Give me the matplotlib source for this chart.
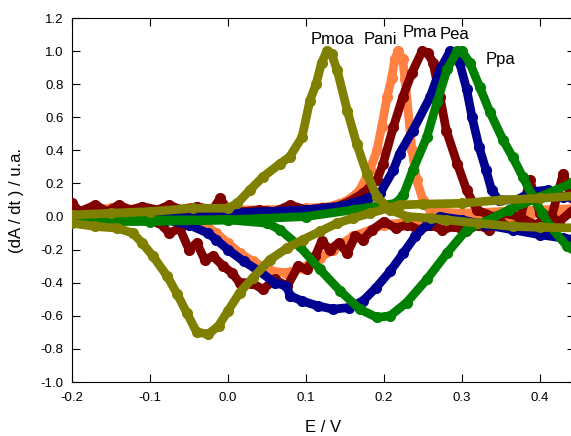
import matplotlib
matplotlib.use('Agg')
import matplotlib.pyplot as plt

# Pmoa (olive) - anodic sweep then cathodic sweep
pmoa_e = [-0.20, -0.15, -0.10, -0.045, 0.0, 0.012, 0.028, 0.045, 0.067, 0.079, 0.095, 0.105, 0.113, 0.12,
          0.127, 0.133, 0.14, 0.153, 0.165, 0.178, 0.191, 0.208, 0.23, 0.26, 0.28, 0.32, 0.365, 0.40, 0.46,
          0.46, 0.40, 0.35, 0.30, 0.25, 0.22, 0.182, 0.16, 0.14, 0.118, 0.096, 0.076, 0.054, 0.032, 0.015,
          0.0, -0.012, -0.025, -0.04, -0.053, -0.065, -0.078, -0.096, -0.11, -0.122, -0.142, -0.17, -0.20]
pmoa_y = [0.01, 0.02, 0.03, 0.05, 0.05, 0.08, 0.16, 0.24, 0.32, 0.36, 0.48, 0.70, 0.80, 0.93,
          1.00, 0.98, 0.885, 0.64, 0.44, 0.26, 0.12, 0.04, 0.0, -0.01, -0.02, -0.04, -0.06, -0.065, -0.07,
          0.13, 0.11, 0.10, 0.08, 0.075, 0.07, 0.02, -0.01, -0.04, -0.09, -0.14, -0.19, -0.26, -0.37, -0.46,
          -0.57, -0.66, -0.71, -0.70, -0.58, -0.47, -0.36, -0.24, -0.16, -0.10, -0.07, -0.06, -0.04]

# Pani (orange)
pani_e = [-0.20, -0.15, -0.10, -0.05, 0.0, 0.05, 0.10, 0.13, 0.15, 0.16, 0.169, 0.182, 0.191, 0.197,
          0.204, 0.21, 0.214, 0.218, 0.224, 0.227, 0.236, 0.242, 0.25, 0.26, 0.30, 0.35, 0.40, 0.46,
          0.46, 0.40, 0.35, 0.30, 0.26, 0.20, 0.16, 0.135, 0.118, 0.096, 0.075, 0.055, 0.032, 0.015,
          0.0, -0.015, -0.027, -0.05, -0.10, -0.20]
pani_y = [0.03, 0.05, 0.04, 0.05, 0.04, 0.04, 0.05, 0.06, 0.09, 0.12, 0.16, 0.28, 0.40, 0.54,
          0.72, 0.84, 0.95, 1.00, 0.95, 0.83, 0.40, 0.22, 0.10, 0.03, 0.02, 0.03, 0.04, 0.05,
          0.03, 0.02, -0.02, -0.03, -0.02, -0.05, -0.12, -0.20, -0.25, -0.31, -0.34, -0.33, -0.27, -0.22,
          -0.16, -0.10, -0.06, -0.02, 0.0, 0.01]

# Pma (dark red), noisy
pma_e = [-0.20, -0.19, -0.17, -0.155, -0.14, -0.125, -0.11, -0.09, -0.075, -0.06, -0.04, -0.02, -0.01,
         0.0, 0.02, 0.04, 0.06, 0.08, 0.10, 0.12, 0.14, 0.155, 0.173, 0.191, 0.199, 0.212, 0.224, 0.236,
         0.249, 0.256, 0.263, 0.272, 0.28, 0.294, 0.306, 0.319, 0.34, 0.36, 0.375, 0.387, 0.40, 0.415,
         0.43, 0.445, 0.46,
         0.46, 0.44, 0.425, 0.41, 0.395, 0.38, 0.365, 0.35, 0.335, 0.32, 0.305, 0.29, 0.275, 0.26, 0.245,
         0.23, 0.215, 0.20, 0.185, 0.173, 0.163, 0.153, 0.142, 0.131, 0.12, 0.112, 0.101, 0.09, 0.076,
         0.06, 0.045, 0.03, 0.015, 0.005, -0.006, -0.019, -0.03, -0.04, -0.05, -0.062, -0.075, -0.09,
         -0.11, -0.13, -0.15, -0.17, -0.19, -0.20]
pma_y = [0.08, 0.03, 0.07, 0.03, 0.07, 0.04, 0.06, 0.04, 0.07, 0.04, 0.06, 0.04, 0.11,
         0.04, 0.03, 0.04, 0.03, 0.07, 0.04, 0.05, 0.06, 0.09, 0.14, 0.22, 0.32, 0.54, 0.72, 0.87,
         1.00, 0.99, 0.93, 0.72, 0.52, 0.32, 0.16, 0.04, 0.0, 0.02, -0.01, 0.22, 0.02, 0.0,
         0.26, 0.05, 0.30,
         -0.02, 0.03, -0.03, 0.0, -0.05, -0.02, -0.07, -0.04, -0.08, -0.05, -0.09, -0.06, -0.08, -0.05, -0.08,
         -0.05, -0.07, -0.03, -0.08, -0.14, -0.12, -0.22, -0.16, -0.20, -0.15, -0.24, -0.32, -0.30, -0.42,
         -0.38, -0.44, -0.40, -0.40, -0.34, -0.30, -0.24, -0.26, -0.16, -0.20, -0.07, -0.10, -0.03,
         -0.01, 0.01, -0.01, 0.01, -0.03, 0.0]

# Pea (navy)
pea_e = [-0.20, -0.10, -0.05, 0.0, 0.05, 0.10, 0.14, 0.16, 0.18, 0.195, 0.212, 0.22, 0.237, 0.259,
         0.272, 0.285, 0.297, 0.306, 0.313, 0.322, 0.331, 0.338, 0.347, 0.37, 0.39, 0.41, 0.43, 0.46,
         0.46, 0.43, 0.40, 0.365, 0.33, 0.30, 0.272, 0.255, 0.24, 0.225, 0.208, 0.19, 0.173, 0.155,
         0.135, 0.115, 0.095, 0.08, 0.075, 0.06, 0.04, 0.02, 0.0, -0.015, -0.026, -0.05, -0.08, -0.12, -0.20]
pea_y = [0.0, 0.0, 0.01, 0.02, 0.03, 0.04, 0.06, 0.08, 0.11, 0.14, 0.28, 0.38, 0.52, 0.72,
         0.89, 1.00, 0.93, 0.77, 0.60, 0.42, 0.28, 0.16, 0.10, 0.10, 0.15, 0.16, 0.12, 0.10,
         -0.15, -0.13, -0.11, -0.08, -0.05, -0.02, 0.0, -0.05, -0.12, -0.22, -0.33, -0.43, -0.51, -0.55,
         -0.56, -0.54, -0.51, -0.48, -0.42, -0.40, -0.33, -0.27, -0.20, -0.14, -0.10, -0.05, -0.02, 0.0, 0.0]

# Ppa (green)
ppa_e = [-0.20, -0.10, 0.0, 0.10, 0.16, 0.215, 0.225, 0.237, 0.255, 0.268, 0.281, 0.294, 0.30,
         0.31, 0.323, 0.336, 0.353, 0.365, 0.378, 0.391, 0.403, 0.413, 0.435, 0.46,
         0.46, 0.44, 0.40, 0.36, 0.33, 0.306, 0.281, 0.255, 0.229, 0.208, 0.191, 0.169, 0.144, 0.118,
         0.092, 0.067, 0.05, 0.0, -0.10, -0.20]
ppa_y = [-0.02, -0.02, -0.02, 0.0, 0.04, 0.08, 0.13, 0.28, 0.48, 0.69, 0.89, 1.00, 1.00,
         0.93, 0.78, 0.63, 0.46, 0.36, 0.24, 0.12, 0.02, -0.06, -0.18, -0.26,
         0.22, 0.20, 0.12, 0.04, -0.03, -0.08, -0.22, -0.38, -0.52, -0.60, -0.61, -0.56, -0.45, -0.32,
         -0.18, -0.08, -0.04, -0.02, -0.03, -0.03]

series = [
    (pani_e, pani_y, '#ff8040'),
    (pma_e, pma_y, '#800000'),
    (pea_e, pea_y, '#000090'),
    (ppa_e, ppa_y, '#008000'),
    (pmoa_e, pmoa_y, '#808000'),
]

plt.rcParams['font.family'] = ['Liberation Sans', 'DejaVu Sans']

fig = plt.figure(figsize=(5.71, 4.36), dpi=100)
ax = fig.add_axes([72 / 571, 54 / 436, 503 / 571, 364 / 436])

for z, (e, y, c) in enumerate(series):
    ax.plot(e, y, color=c, lw=6.3, solid_capstyle='round', solid_joinstyle='round',
            marker='o', ms=7, mec=c, zorder=2 + z)

# peak labels
ax.text(0.134, 1.07, 'Pmoa', ha='center', va='center', fontsize=12)
ax.text(0.195, 1.07, 'Pani', ha='center', va='center', fontsize=12)
ax.text(0.246, 1.11, 'Pma', ha='center', va='center', fontsize=12)
ax.text(0.291, 1.10, 'Pea', ha='center', va='center', fontsize=12)
ax.text(0.350, 0.95, 'Ppa', ha='center', va='center', fontsize=12)

ax.set_xlim(-0.2, 0.445)
ax.set_ylim(-1.0, 1.2)
ax.set_xticks([-0.2, -0.1, 0.0, 0.1, 0.2, 0.3, 0.4])
ax.set_yticks([-1.0, -0.8, -0.6, -0.4, -0.2, 0.0, 0.2, 0.4, 0.6, 0.8, 1.0, 1.2])
ax.xaxis.set_major_formatter(matplotlib.ticker.FormatStrFormatter('%.1f'))
ax.yaxis.set_major_formatter(matplotlib.ticker.FormatStrFormatter('%.1f'))
ax.tick_params(direction='in', top=True, right=True, length=6, labelsize=9.5)
ax.tick_params(axis='x', pad=7)
ax.tick_params(axis='y', pad=6)

ax.set_xlabel('E / V', fontsize=12, labelpad=12)
ax.set_ylabel('(dA / dt ) / u.a.', fontsize=12, labelpad=12)

fig.savefig('out.png', dpi=100)
